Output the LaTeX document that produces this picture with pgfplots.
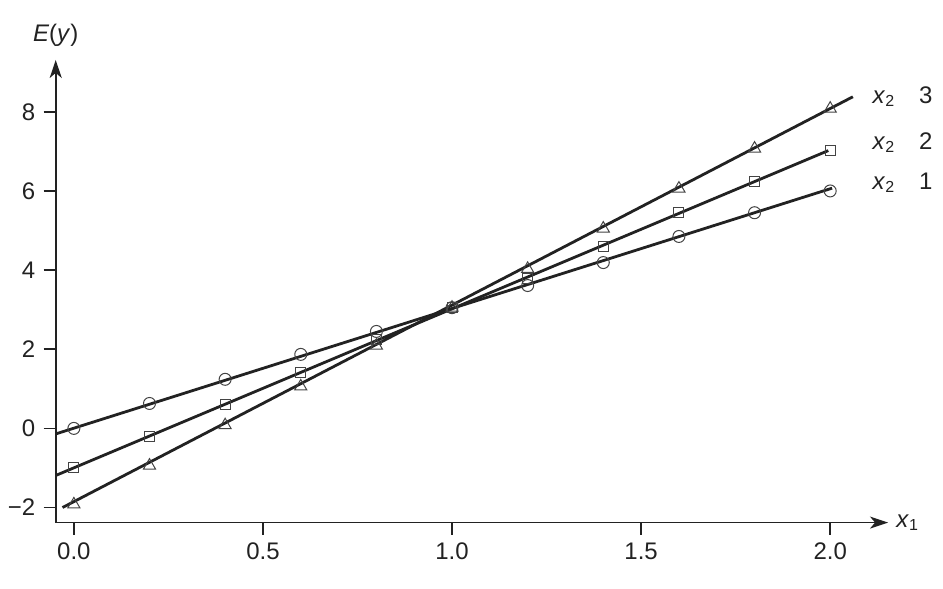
\documentclass[border=0pt]{standalone}
\usepackage{pgfplots}
\pgfplotsset{compat=1.18}
\usetikzlibrary{arrows.meta}
\usepackage{fontspec}
\setmainfont{Liberation Sans}
\begin{document}
\fontsize{12}{14}\selectfont
\begin{tikzpicture}
\definecolor{ink}{HTML}{222222}
\begin{axis}[
  scale only axis, width=416.5pt, height=231.5pt,
  xmin=-0.048, xmax=2.153, ymin=-2.38, ymax=9.31,
  axis lines=left,
  axis line style={ink, line width=0.9pt, -{Stealth[length=9pt, width=6pt, inset=2.5pt]}},
  tick align=outside, major tick length=6pt,
  tick style={ink, line width=0.8pt},
  xtick={0,0.5,1,1.5,2}, xticklabels={0.0,0.5,1.0,1.5,2.0},
  ytick={-2,0,2,4,6,8}, yticklabels={−2,0,2,4,6,8},
  ticklabel style={font=\fontsize{12}{14}\selectfont, text=ink},
  clip=false]
% fitted lines
\addplot[ink, line width=1.4pt] coordinates {(-0.048,-0.14) (2.005,6.07)};
\addplot[ink, line width=1.4pt] coordinates {(-0.048,-1.19) (1.995,7.02)};
\addplot[ink, line width=1.4pt] coordinates {(-0.03,-2.0) (2.06,8.38)};
% x2 = 1
\addplot[only marks, mark=o, mark size=3pt, mark options={ink!85, line width=0.5pt}] coordinates {
(0.0,0.0) (0.2,0.63) (0.4,1.24) (0.6,1.87) (0.8,2.45) (1.0,3.05)
(1.2,3.61) (1.4,4.19) (1.6,4.85) (1.8,5.45) (2.0,6.0)};
% x2 = 2
\addplot[only marks, mark=square, mark size=2.5pt, mark options={ink!85, line width=0.5pt}] coordinates {
(0.0,-0.98) (0.2,-0.2) (0.4,0.61) (0.6,1.41) (0.8,2.25) (1.0,3.05)
(1.2,3.79) (1.4,4.6) (1.6,5.45) (1.8,6.24) (2.0,7.02)};
% x2 = 3
\addplot[only marks, mark=triangle, mark size=3.5pt, mark options={ink!85, line width=0.5pt}] coordinates {
(0.0,-1.92) (0.2,-0.94) (0.4,0.08) (0.6,1.06) (0.8,2.09) (1.0,3.05)
(1.2,4.03) (1.4,5.05) (1.6,6.06) (1.8,7.07) (2.0,8.08)};
\node[anchor=west, text=ink] at (axis cs:2.09,8.38) {\textit{x}\textsubscript{2}\quad 3};
\node[anchor=west, text=ink] at (axis cs:2.09,7.22) {\textit{x}\textsubscript{2}\quad 2};
\node[anchor=west, text=ink] at (axis cs:2.09,6.21) {\textit{x}\textsubscript{2}\quad 1};
\node[anchor=west, text=ink] at (rel axis cs:1,0) {\textit{x}\textsubscript{1}};
\node[anchor=south, text=ink] at (axis cs:-0.048,9.45) {\textit{E}(\textit{y})};
\end{axis}
\useasboundingbox (-27.5pt,-33pt) rectangle (444pt,261.5pt);
\end{tikzpicture}
\end{document}
